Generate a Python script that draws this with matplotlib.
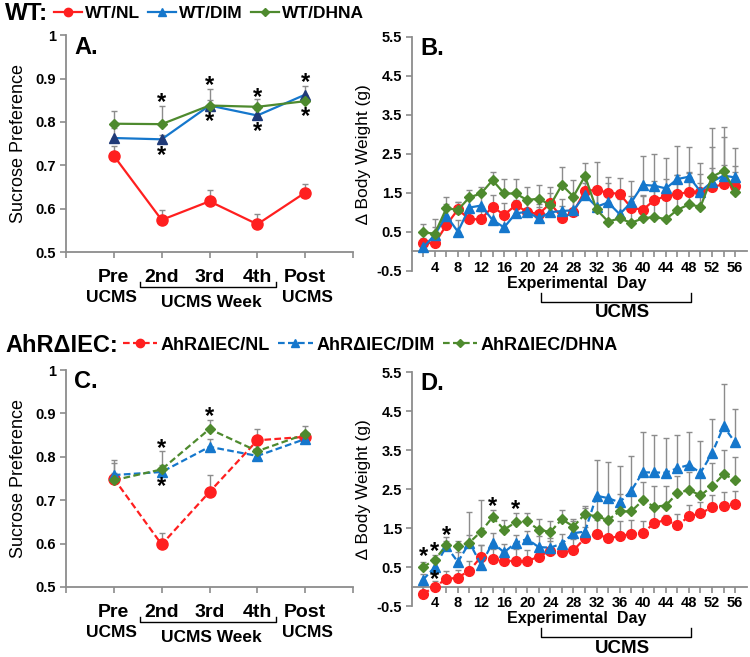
import matplotlib
matplotlib.use('Agg')
import matplotlib.pyplot as plt
from matplotlib.lines import Line2D
import numpy as np

plt.rcParams['font.family'] = ['Liberation Sans', 'DejaVu Sans']
plt.rcParams['font.weight'] = 'bold'

# ---- sucrose preference (panels A and C) ----
weeks = [0, 1, 2, 3, 4]
wt_nl = [0.722, 0.574, 0.617, 0.564, 0.637]
wt_nl_err = [0.023, 0.023, 0.026, 0.024, 0.021]
wt_dim = [0.763, 0.760, 0.838, 0.815, 0.863]
wt_dim_err = [0.022, 0.010, 0.012, 0.012, 0.019]
wt_dhna = [0.796, 0.795, 0.838, 0.835, 0.848]
wt_dhna_err = [0.030, 0.043, 0.039, 0.017, 0.012]

ko_nl = [0.750, 0.598, 0.719, 0.838, 0.846]
ko_nl_err = [0.012, 0.027, 0.039, 0.025, 0.012]
ko_dim = [0.758, 0.765, 0.823, 0.802, 0.841]
ko_dim_err = [0.035, 0.015, 0.018, 0.010, 0.012]
ko_dhna = [0.746, 0.771, 0.864, 0.813, 0.852]
ko_dhna_err = [0.040, 0.042, 0.021, 0.015, 0.020]

# ---- body weight (panels B and D) ----
days = list(range(2, 57, 2))
bw_wt_nl = [0.22, 0.20, 0.67, 1.07, 0.82, 0.82, 1.14, 0.93, 1.18, 1.01, 0.95, 1.23, 0.86, 1.00,
            1.55, 1.57, 1.50, 1.47, 1.12, 1.06, 1.31, 1.41, 1.46, 1.52, 1.53, 1.64, 1.72, 1.68]
bw_wt_nl_err = [0.12, 0.12, 0.20, 0.20, 0.20, 0.20, 0.30, 0.30, 0.30, 0.25, 0.25, 0.42, 0.30, 0.30,
                0.30, 0.72, 0.40, 0.40, 0.30, 0.35, 0.50, 0.45, 0.50, 0.50, 0.45, 0.50, 0.50, 0.50]
bw_wt_dim = [0.10, 0.42, 0.91, 0.50, 1.12, 1.17, 0.80, 0.61, 0.97, 1.01, 0.84, 1.00, 1.03, 1.05,
             1.44, 1.14, 1.25, 0.95, 1.25, 1.70, 1.68, 1.61, 1.85, 1.91, 1.53, 1.78, 1.94, 1.89]
bw_wt_dim_err = [0.10, 0.20, 0.30, 0.30, 0.30, 0.30, 0.40, 0.35, 0.35, 0.30, 0.30, 0.30, 0.30, 0.30,
                 0.30, 0.40, 0.50, 0.60, 0.55, 0.74, 0.80, 0.79, 0.85, 0.75, 0.74, 0.90, 1.00, 0.75]
bw_wt_dhna = [0.48, 0.45, 1.10, 1.06, 1.38, 1.48, 1.82, 1.48, 1.48, 1.31, 1.35, 1.18, 1.70, 1.40,
              1.93, 1.07, 0.76, 0.84, 0.73, 0.84, 0.88, 0.82, 1.06, 1.20, 1.14, 1.91, 2.06, 1.53]
bw_wt_dhna_err = [0.21, 0.37, 0.30, 0.21, 0.19, 0.16, 0.22, 0.36, 0.36, 0.34, 0.34, 0.30, 0.47, 0.42,
                  0.32, 0.55, 0.40, 0.50, 0.55, 0.60, 0.70, 0.60, 0.90, 0.80, 0.60, 1.24, 1.12, 0.50]

bw_ko_nl = [-0.19, 0.00, 0.19, 0.23, 0.41, 0.76, 0.71, 0.65, 0.66, 0.65, 0.77, 0.92, 0.88, 0.93,
            1.24, 1.35, 1.24, 1.29, 1.35, 1.37, 1.63, 1.71, 1.57, 1.80, 1.88, 2.03, 2.08, 2.12]
bw_ko_nl_err = [0.20, 0.15, 0.20, 0.20, 0.25, 0.30, 0.25, 0.25, 0.30, 0.30, 0.25, 0.25, 0.25, 0.30,
                0.30, 0.36, 0.40, 0.40, 0.35, 0.30, 0.35, 0.13, 0.30, 0.30, 0.30, 0.32, 0.35, 0.32]
bw_ko_dim = [0.18, 0.50, 1.03, 0.63, 1.13, 0.56, 1.12, 0.88, 1.12, 1.22, 1.01, 1.00, 1.10, 1.37,
             1.41, 2.33, 2.27, 2.16, 2.46, 2.93, 2.93, 2.92, 3.04, 3.12, 2.92, 3.42, 4.11, 3.70]
bw_ko_dim_err = [0.15, 0.12, 0.15, 0.25, 0.78, 0.50, 0.25, 0.20, 0.20, 0.20, 0.30, 0.25, 0.25, 0.30,
                 0.60, 0.92, 0.93, 0.94, 0.88, 1.04, 0.97, 0.90, 0.86, 0.85, 0.81, 0.87, 1.09, 0.87]
bw_ko_dhna = [0.50, 0.69, 1.06, 1.03, 1.13, 1.41, 1.78, 1.46, 1.65, 1.67, 1.46, 1.40, 1.73, 1.54,
              1.86, 1.80, 1.71, 1.93, 1.93, 2.21, 2.05, 2.08, 2.40, 2.48, 2.34, 2.57, 2.88, 2.74]
bw_ko_dhna_err = [0.14, 0.13, 0.20, 0.15, 0.20, 0.80, 0.19, 0.25, 0.23, 0.23, 0.27, 0.27, 0.24, 0.20,
                  0.20, 0.45, 0.50, 0.45, 0.50, 0.48, 0.52, 0.49, 0.45, 0.45, 0.50, 0.61, 0.63, 0.58]

# significance marks (x, y)
stars_a = [(1, 0.852), (1, 0.731), (2, 0.892), (2, 0.810), (3, 0.865), (3, 0.785), (4, 0.898), (4, 0.820)]
stars_c = [(1, 0.828), (1, 0.740), (2, 0.900)]
stars_d = [(2, 0.86), (4, 0.99), (4, 0.26), (6, 1.41), (14, 2.14), (18, 2.07)]

RED = '#FF1F1F'
BLUE = '#1577CC'
NAVY = '#1F3A78'
GREEN = '#4E8A2E'
GRAY = '#8C8C8C'

fig = plt.figure(figsize=(7.5, 6.57), dpi=100)


def px_axes(left, top, right, bottom):
    return fig.add_axes([left / 750, 1 - bottom / 657, (right - left) / 750, (bottom - top) / 657])


def style_axes(ax):
    for s in ['top', 'right']:
        ax.spines[s].set_visible(False)
    for s in ['left', 'bottom']:
        ax.spines[s].set_color(GRAY)
        ax.spines[s].set_linewidth(1.3)
    ax.tick_params(direction='out', length=4, width=1.2, color=GRAY, labelsize=10.5, pad=3)


def draw_series(ax, x, y, err, color, marker, ms, ls, mfc=None):
    ax.errorbar(x, y, yerr=[np.zeros(len(err)), err], fmt='none', ecolor=GRAY,
                elinewidth=1.0, capsize=2.5, capthick=1.0, zorder=1)
    ax.plot(x, y, color=color, lw=1.6, ls=ls, marker=marker, ms=ms,
            mfc=mfc or color, mec=mfc or color, zorder=3)


def put_stars(ax, stars):
    for sx, sy in stars:
        ax.annotate('*', (sx, sy), xytext=(0, -2.5), textcoords='offset points',
                    fontsize=17, ha='center', va='center')


def sucrose_panel(ax, letter, series, stars):
    for x, y, err, color, marker, ms, ls, mfc in series:
        draw_series(ax, x, y, err, color, marker, ms, ls, mfc)
    ax.set_xlim(-1, 5)
    ax.set_ylim(0.5, 1.0)
    ax.set_yticks([0.5, 0.6, 0.7, 0.8, 0.9, 1.0])
    ax.set_yticklabels(['0.5', '0.6', '0.7', '0.8', '0.9', '1'])
    ax.set_xticks(range(-1, 6))
    ax.set_xticklabels([])
    style_axes(ax)
    ax.set_ylabel('Sucrose Preference', fontsize=13, labelpad=6)
    ax.text(0.028, 0.946, letter, transform=ax.transAxes, fontsize=17, va='center')
    put_stars(ax, stars)
    kw = dict(ha='center', va='center', clip_on=False)
    ax.text(0, 0.442, 'Pre', fontsize=14, **kw)
    ax.text(-0.05, 0.396, 'UCMS', fontsize=12.5, **kw)
    for i, lab in zip([1, 2, 3], ['2nd', '3rd', '4th']):
        ax.text(i, 0.442, lab, fontsize=14, **kw)
    ax.text(4.0, 0.442, 'Post', fontsize=14, **kw)
    ax.text(4.05, 0.396, 'UCMS', fontsize=12.5, **kw)
    ax.text(2.04, 0.383, 'UCMS Week', fontsize=12.5, **kw)
    ax.plot([0.54, 0.54, 3.40, 3.40], [0.430, 0.419, 0.419, 0.430], color='black', lw=1.0,
            clip_on=False)


def weight_panel(ax, letter, series, stars):
    for x, y, err, color, marker, ms, ls, mfc in series:
        draw_series(ax, x, y, err, color, marker, ms, ls, mfc)
    ax.set_xlim(0, 58)
    ax.set_ylim(-0.5, 5.5)
    ax.set_yticks([-0.5, 0.5, 1.5, 2.5, 3.5, 4.5, 5.5])
    ax.set_yticklabels(['-0.5', '0.5', '1.5', '2.5', '3.5', '4.5', '5.5'])
    ax.set_xticks(days)
    ax.set_xticklabels([str(d) if d % 4 == 0 else '' for d in days])
    style_axes(ax)
    ax.spines['bottom'].set_position(('data', 0))
    ax.set_ylabel('\u2206 Body Weight (g)', fontsize=12.5, labelpad=4)
    ax.text(0.025, 0.95, letter, transform=ax.transAxes, fontsize=17, va='center')
    put_stars(ax, stars)
    kw = dict(ha='center', va='center', clip_on=False)
    ax.text(28.5, -0.82, 'Experimental  Day', fontsize=11.5, **kw)
    ax.plot([22.4, 22.4, 48.4, 48.4], [-1.07, -1.29, -1.29, -1.07], color='black', lw=1.0,
            clip_on=False)
    ax.text(36.4, -1.58, 'UCMS', fontsize=13.5, **kw)


ax_a = px_axes(66, 35.3, 353, 252)
ax_b = px_axes(411.7, 36.7, 746.7, 270.7)
ax_c = px_axes(66, 370, 353, 587)
ax_d = px_axes(411.7, 372.3, 746.7, 606)

sucrose_panel(ax_a, 'A.', [
    (weeks, wt_nl, wt_nl_err, RED, 'o', 8, '-', None),
    (weeks, wt_dim, wt_dim_err, BLUE, '^', 7, '-', NAVY),
    (weeks, wt_dhna, wt_dhna_err, GREEN, 'D', 5, '-', None),
], stars_a)

weight_panel(ax_b, 'B.', [
    (days, bw_wt_nl, bw_wt_nl_err, RED, 'o', 7, '-', None),
    (days, bw_wt_dim, bw_wt_dim_err, BLUE, '^', 7, '-', None),
    (days, bw_wt_dhna, bw_wt_dhna_err, GREEN, 'D', 5, '-', None),
], [])

sucrose_panel(ax_c, 'C.', [
    (weeks, ko_nl, ko_nl_err, RED, 'o', 8, (0, (3, 1.5)), None),
    (weeks, ko_dim, ko_dim_err, BLUE, '^', 7, (0, (3, 1.5)), None),
    (weeks, ko_dhna, ko_dhna_err, GREEN, 'D', 5, (0, (3, 1.5)), None),
], stars_c)

weight_panel(ax_d, 'D.', [
    (days, bw_ko_nl, bw_ko_nl_err, RED, 'o', 7, (0, (3, 1.5)), None),
    (days, bw_ko_dim, bw_ko_dim_err, BLUE, '^', 7, (0, (3, 1.5)), None),
    (days, bw_ko_dhna, bw_ko_dhna_err, GREEN, 'D', 5, (0, (3, 1.5)), None),
], stars_d)

# group headers and legends
fig.text(5 / 750, 1 - 13 / 657, 'WT:', fontsize=17.5, va='center')
wt_handles = [
    Line2D([], [], color=RED, marker='o', ms=6, lw=1.6),
    Line2D([], [], color=BLUE, marker='^', ms=6, lw=1.6, mfc=BLUE, mec=BLUE),
    Line2D([], [], color=GREEN, marker='D', ms=4, lw=1.6),
]
fig.legend(wt_handles, ['WT/NL', 'WT/DIM', 'WT/DHNA'], loc='center left',
           bbox_to_anchor=(54 / 750, 1 - 13 / 657), ncol=3, frameon=False,
           handlelength=1.6, handletextpad=0.2, columnspacing=0.45,
           borderaxespad=0, borderpad=0, prop={'size': 12.5, 'weight': 'bold'})

fig.text(5 / 750, 1 - 345 / 657, 'AhR\u0394IEC:', fontsize=17, va='center')
ko_handles = [
    Line2D([], [], color=RED, marker='o', ms=6, lw=1.6, ls=(0, (3, 1.5))),
    Line2D([], [], color=BLUE, marker='^', ms=6, lw=1.6, ls=(0, (3, 1.5))),
    Line2D([], [], color=GREEN, marker='D', ms=4, lw=1.6, ls=(0, (3, 1.5))),
]
fig.legend(ko_handles, ['AhR\u0394IEC/NL', 'AhR\u0394IEC/DIM', 'AhR\u0394IEC/DHNA'],
           loc='center left', bbox_to_anchor=(123 / 750, 1 - 345 / 657), ncol=3,
           frameon=False, handlelength=1.9, handletextpad=0.2, columnspacing=0.45,
           borderaxespad=0, borderpad=0, prop={'size': 13, 'weight': 'bold'})

fig.savefig('out.png', dpi=100)
